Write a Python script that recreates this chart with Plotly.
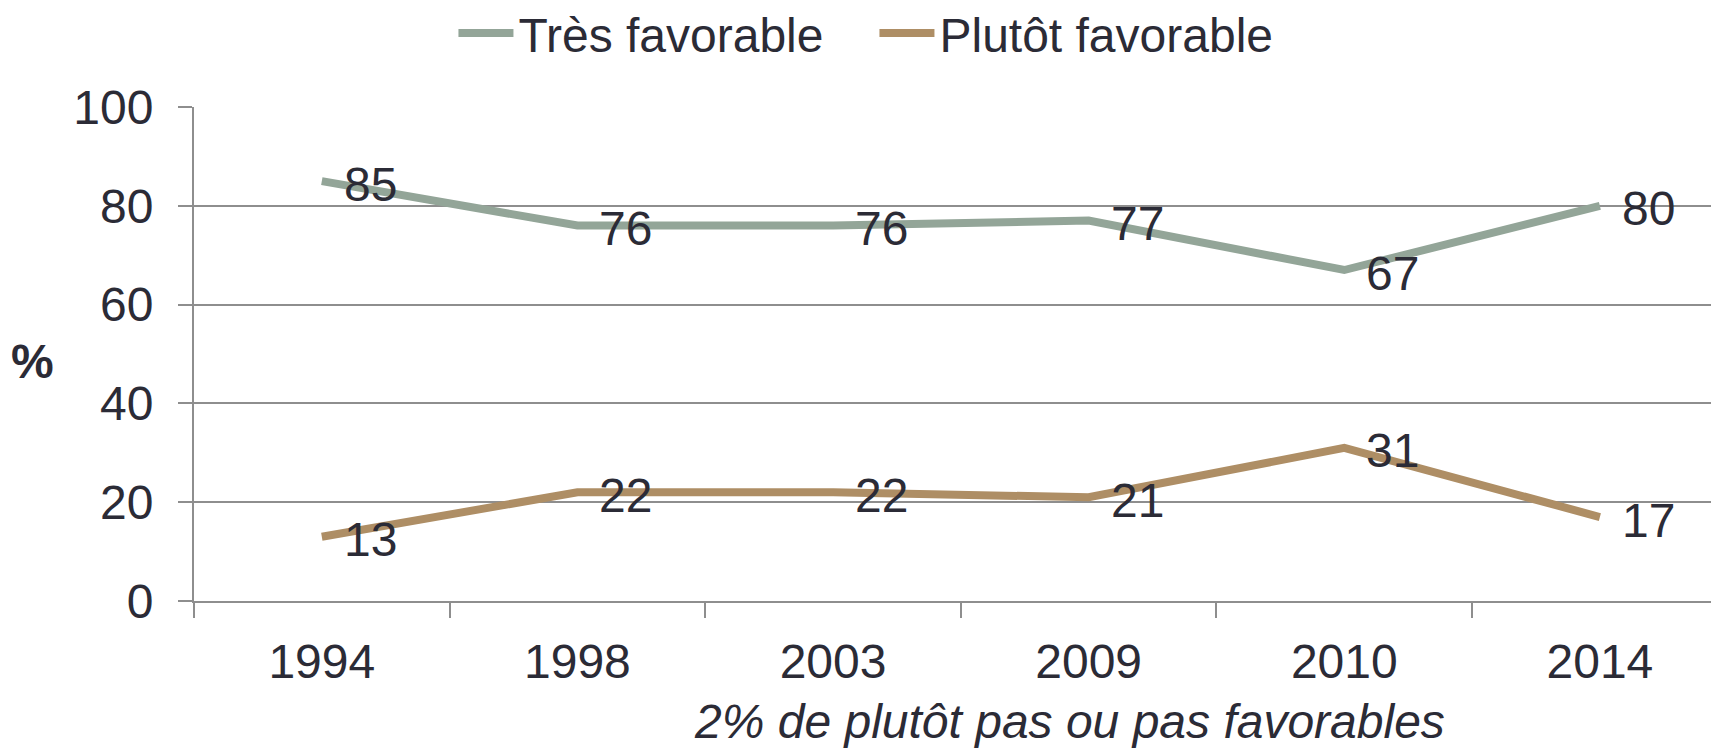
import plotly.graph_objects as go

years = ["1994", "1998", "2003", "2009", "2010", "2014"]
tres_favorable = [85, 76, 76, 77, 67, 80]
plutot_favorable = [13, 22, 22, 21, 31, 17]
y_ticks = [0, 20, 40, 60, 80, 100]

GREEN = "#93A598"
BROWN = "#AE8E65"
TEXT = "#2B2B36"
GRID = "#8E8E8E"
FONT = "Liberation Sans, Arial, sans-serif"
FS = 48

fig = go.Figure()
fig.add_trace(go.Scatter(x=list(range(len(years))), y=tres_favorable, mode="lines", name="Très favorable",
                         line=dict(color=GREEN, width=8)))
fig.add_trace(go.Scatter(x=list(range(len(years))), y=plutot_favorable, mode="lines", name="Plutôt favorable",
                         line=dict(color=BROWN, width=8)))

annotations = []
for series in (tres_favorable, plutot_favorable):
    for i, v in enumerate(series):
        annotations.append(dict(x=i, y=v, xref="x", yref="y", text=str(v), showarrow=False,
                                xanchor="left", yanchor="middle", xshift=20, yshift=-3,
                                font=dict(family=FONT, size=FS, color=TEXT)))
annotations.append(dict(x=-0.106, y=0.484, xref="paper", yref="paper", text="<b>%</b>",
                        showarrow=False, xanchor="center", yanchor="middle",
                        font=dict(family=FONT, size=48, color=TEXT)))
annotations.append(dict(x=0.574, y=-0.243, xref="paper", yref="paper",
                        text="<i>2% de plutôt pas ou pas favorables</i>",
                        showarrow=False, xanchor="center", yanchor="middle",
                        font=dict(family=FONT, size=48, color=TEXT)))

fig.update_layout(
    width=1711, height=741,
    margin=dict(l=186, r=0, t=99, b=148, pad=0),
    paper_bgcolor="white", plot_bgcolor="white",
    font=dict(family=FONT, size=FS, color=TEXT),
    showlegend=True,
    legend=dict(orientation="h", xref="container", yref="container", x=0.5064, y=0.966,
                xanchor="center", yanchor="middle", font=dict(family=FONT, size=FS, color=TEXT),
                itemwidth=55, entrywidth=351, tracegroupgap=0, bgcolor="rgba(0,0,0,0)"),
    annotations=annotations,
)
fig.update_xaxes(type="linear", range=[-0.5, 5.466], tickmode="array",
                 tickvals=list(range(len(years))), ticktext=years, ticks="",
                 showline=True, linecolor=GRID, linewidth=2, showgrid=False, zeroline=False,
                 minor=dict(tickmode="array", tickvals=[i - 0.5 for i in range(len(years) + 1)],
                            ticks="outside", ticklen=15, tickcolor=GRID, tickwidth=2, showgrid=False),
                 tickfont=dict(family=FONT, size=FS, color=TEXT), ticklabelstandoff=17)
fig.update_yaxes(range=[0, 100], tickvals=y_ticks, ticks="outside", ticklen=14,
                 tickcolor=GRID, tickwidth=2, showline=True, linecolor=GRID, linewidth=2,
                 showgrid=True, gridcolor=GRID, gridwidth=2, zeroline=False,
                 tickfont=dict(family=FONT, size=FS, color=TEXT), ticklabelstandoff=15)

fig.write_html("out.html")
